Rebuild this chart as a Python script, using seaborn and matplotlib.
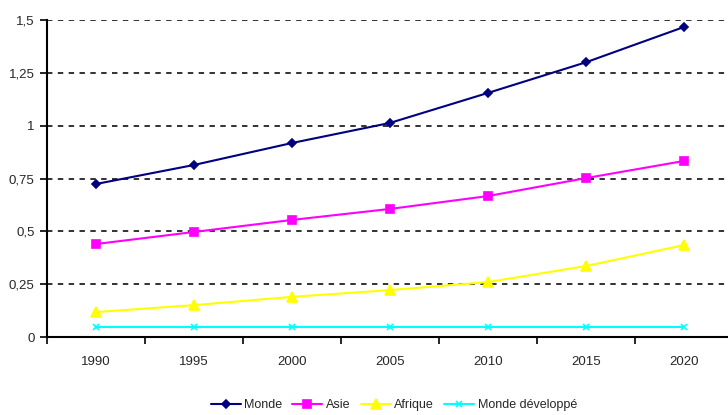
import matplotlib
matplotlib.use("Agg")
import matplotlib.pyplot as plt
import seaborn as sns
import pandas as pd
import numpy as np
from matplotlib.ticker import FixedLocator

years = ["1990", "1995", "2000", "2005", "2010", "2015", "2020"]
monde = [0.724, 0.814, 0.918, 1.013, 1.155, 1.30, 1.467]
asie = [0.44, 0.497, 0.554, 0.606, 0.667, 0.752, 0.833]
afrique = [0.118, 0.151, 0.19, 0.222, 0.26, 0.336, 0.435]
monde_dev = [0.047, 0.047, 0.047, 0.047, 0.047, 0.047, 0.047]
series_names = ["Monde", "Asie", "Afrique", "Monde développé"]
y_ticks = [0, 0.25, 0.5, 0.75, 1, 1.25, 1.5]
y_labels = ["0", "0,25", "0,5", "0,75", "1", "1,25", "1,5"]

sns.set_style("white")
plt.rcParams['font.family'] = ['Liberation Sans Narrow', 'Liberation Sans', 'DejaVu Sans']

rows = []
for name, vals in zip(series_names, [monde, asie, afrique, monde_dev]):
    for i, v in enumerate(vals):
        rows.append({"idx": i, "val": v, "serie": name})
df = pd.DataFrame(rows)

palette = {"Monde": "#000080", "Asie": "#FF00FF", "Afrique": "#FFFF00", "Monde développé": "#00FFFF"}
markers = {"Monde": "D", "Asie": "s", "Afrique": "^", "Monde développé": "x"}
msize = {"Monde": 4.5, "Asie": 5.5, "Afrique": 6.5, "Monde développé": 5}

fig = plt.figure(figsize=(7.28, 4.15), dpi=100)
ax = fig.add_axes([47/728, 1-337/415, 686/728, 317/415])

for name in series_names:
    sub = df[df.serie == name]
    sns.lineplot(data=sub, x="idx", y="val", color=palette[name], marker=markers[name],
                 markersize=msize[name], markeredgecolor=palette[name], markeredgewidth=1.2,
                 linewidth=1.5, ax=ax, label=name, legend=False)

ax.set_xlim(-0.5, 6.5)
ax.set_ylim(0, 1.5)
ax.set_yticks(y_ticks)
ax.set_yticklabels(y_labels, fontsize=9.5)
ax.xaxis.set_major_locator(FixedLocator(range(len(years))))
ax.set_xticklabels(years, fontsize=9.5)
ax.xaxis.set_minor_locator(FixedLocator(np.arange(-0.5, 7, 1)))
ax.tick_params(axis="x", which="major", length=0, pad=14)
ax.tick_params(axis="x", which="minor", length=5, width=1.2, color="black", direction="out", bottom=True)
ax.tick_params(axis="y", length=5, width=1.2, color="black", direction="out", left=True, pad=4)
ax.set_xlabel("")
ax.set_ylabel("")
for s in ["top", "right"]:
    ax.spines[s].set_visible(False)
for s in ["left", "bottom"]:
    ax.spines[s].set_color("black")
    ax.spines[s].set_linewidth(1.5)
for t in y_ticks[1:]:
    ax.axhline(t, color="#222222", linestyle=(0, (3, 3)), linewidth=1.3, zorder=0)

handles, labels = ax.get_legend_handles_labels()
fig.legend(handles, labels, loc="center", bbox_to_anchor=(0.541, 1-405/415), ncol=4,
           frameon=False, fontsize=9, handlelength=2.4, columnspacing=0.8, handletextpad=0.3)

fig.savefig("out.png", dpi=100)
